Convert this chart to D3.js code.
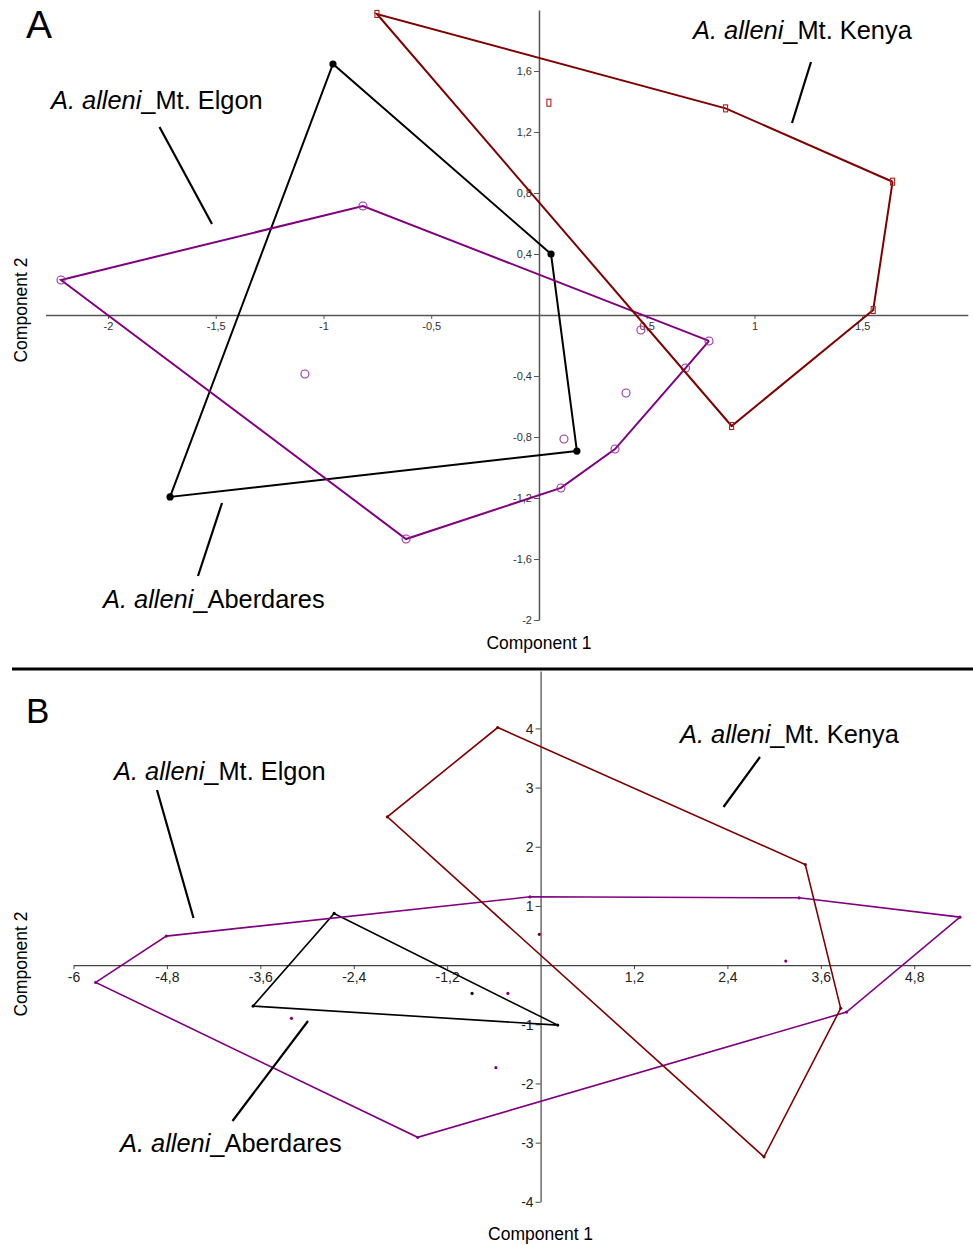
<!DOCTYPE html>
<html>
<head>
<meta charset="utf-8">
<script src="https://cdn.jsdelivr.net/npm/d3@7"></script>
<style>
  body { margin: 0; background: #fff; }
  text { font-family: "Liberation Sans", Arial, sans-serif; }
</style>
</head>
<body>
<div id="plot"></div>
<script>
// groups
const groupNames = ['Aberdares', 'Mt. Elgon', 'Mt. Kenya'];
const groupColors = ['#000000', '#800080', '#7f0000'];

// panel A scores [component 1, component 2]
const aAberdares = [[-0.956, 1.646], [0.056, 0.40], [0.176, -0.892], [-1.712, -1.193]];
const aElgon = [[-2.218, 0.23], [-0.817, 0.715], [0.789, -0.17], [0.68, -0.348], [0.353, -0.879],
  [0.102, -1.134], [-0.617, -1.469], [-1.086, -0.387], [0.473, -0.098], [0.404, -0.511], [0.116, -0.813]];
const aKenya = [[-0.752, 1.974], [0.866, 1.355], [1.641, 0.874], [1.551, 0.033], [0.894, -0.728], [0.046, 1.392]];

// panel B scores
const bAberdares = [[-2.652, 0.873], [0.22, -1.014], [-3.693, -0.693], [-0.88, -0.478]];
const bElgon = [[-5.715, -0.292], [-4.808, 0.49], [-0.136, 1.154], [3.32, 1.137], [5.387, 0.81],
  [3.93, -0.794], [-1.579, -2.91], [-3.20, -0.90], [-0.42, -0.478], [-0.574, -1.734], [3.15, 0.068]];
const bKenya = [[-0.551, 4.015], [3.40, 1.70], [3.855, -0.731], [2.87, -3.24], [-1.968, 2.505], [-0.016, 0.52]];

// axis extents and ticks
const aXDomain = [-2.29, 1.99];
const aYDomain = [-2, 2];
const aXTicks = [-2, -1.5, -1, -0.5, 0.5, 1, 1.5];
const aYTicks = [-2, -1.6, -1.2, -0.8, -0.4, 0.4, 0.8, 1.2, 1.6];
const bXDomain = [-6, 5.52];
const bYDomain = [-4, 4.97];
const bXTicks = [-6, -4.8, -3.6, -2.4, -1.2, 1.2, 2.4, 3.6, 4.8];
const bYTicks = [-4, -3, -2, -1, 1, 2, 3, 4];

const axisTitles = ['Component 1', 'Component 2'];

const svg = d3.select('#plot')
  .append('svg')
  .attr('width', 973)
  .attr('height', 1245)
  .attr('xmlns', 'http://www.w3.org/2000/svg');

const fmt = (d) => String(d).replace('.', ',');

const drawPanel = (p) => {
  const g = svg.append('g').attr('class', 'panel');

  const x = d3.scaleLinear().domain(p.xDomain).range(p.xRange);
  const y = d3.scaleLinear().domain(p.yDomain).range(p.yRange);

  // axes cross at the origin
  const xAxis = d3.axisBottom(x)
    .tickValues(p.xTicks)
    .tickFormat(fmt)
    .tickSizeInner(4)
    .tickSizeOuter(0)
    .tickPadding(p.xPad);

  const yAxis = d3.axisLeft(y)
    .tickValues(p.yTicks)
    .tickFormat(fmt)
    .tickSizeInner(5)
    .tickSizeOuter(0)
    .tickPadding(2);

  const gx = g.append('g')
    .attr('transform', `translate(0,${y(0)})`)
    .call(xAxis);
  const gy = g.append('g')
    .attr('transform', `translate(${x(0)},0)`)
    .call(yAxis);

  [gx, gy].forEach((ax) => {
    ax.select('.domain').attr('stroke', p.axisColor).attr('stroke-width', p.axisWidth);
    ax.selectAll('.tick line').attr('stroke', p.axisColor).attr('stroke-width', 1);
    ax.selectAll('.tick text')
      .attr('fill', p.tickColor)
      .style('font-size', `${p.tickFont}px`)
      .style('font-family', '"Liberation Sans", Arial, sans-serif');
  });
  gy.selectAll('.tick text').attr('dy', '0.36em');

  // convex hulls and points
  const line = d3.line().x((d) => x(d[0])).y((d) => y(d[1]));
  p.groups.forEach((pts, i) => {
    const hull = d3.polygonHull(pts);
    g.append('path')
      .attr('d', line(hull.concat([hull[0]])))
      .attr('fill', 'none')
      .attr('stroke', groupColors[i])
      .attr('stroke-width', p.hullWidth)
      .attr('stroke-linejoin', 'miter');

    const marks = g.append('g').attr('class', `pts-${i}`);
    pts.forEach((d) => {
      if (p.markers === 'small') {
        marks.append('circle')
          .attr('cx', x(d[0])).attr('cy', y(d[1])).attr('r', 1.6)
          .attr('fill', groupColors[i]);
      } else if (i === 0) {
        marks.append('circle')
          .attr('cx', x(d[0])).attr('cy', y(d[1])).attr('r', 3.6)
          .attr('fill', groupColors[i]);
      } else if (i === 1) {
        marks.append('circle')
          .attr('cx', x(d[0])).attr('cy', y(d[1])).attr('r', 4)
          .attr('fill', 'none')
          .attr('stroke', '#9b30a0')
          .attr('stroke-width', 1.1);
      } else {
        marks.append('rect')
          .attr('x', x(d[0]) - 2).attr('y', y(d[1]) - 3.5)
          .attr('width', 4).attr('height', 7)
          .attr('fill', 'none')
          .attr('stroke', '#b02020')
          .attr('stroke-width', 1.1);
      }
    });
  });

  // group labels with leader lines
  p.labels.forEach((l) => {
    const t = g.append('text')
      .attr('x', l.x).attr('y', l.y)
      .attr('fill', 'black')
      .style('font-size', '25.4px');
    t.append('tspan').style('font-style', 'italic').text('A. alleni');
    t.append('tspan').text(`_${groupNames[l.group]}`);
    g.append('line')
      .attr('x1', l.line[0]).attr('y1', l.line[1])
      .attr('x2', l.line[2]).attr('y2', l.line[3])
      .attr('stroke', 'black')
      .attr('stroke-width', 2.2);
  });

  // panel letter
  g.append('text')
    .attr('x', 26).attr('y', p.letterY)
    .style('font-size', `${p.letterSize}px`)
    .text(p.letter);

  // axis titles
  g.append('text')
    .attr('x', x(0)).attr('y', p.titleX)
    .attr('text-anchor', 'middle')
    .style('font-size', '17.5px')
    .text(axisTitles[0]);
  g.append('text')
    .attr('transform', `translate(27,${p.titleYMid}) rotate(-90)`)
    .attr('text-anchor', 'middle')
    .style('font-size', '17.5px')
    .text(axisTitles[1]);
};

drawPanel({
  letter: 'A', letterY: 38, letterSize: 39,
  xDomain: aXDomain, yDomain: aYDomain,
  xRange: [45.5, 967.8], yRange: [620, 10],
  xTicks: aXTicks, yTicks: aYTicks, xPad: 3,
  axisColor: '#555', axisWidth: 1.5, tickColor: '#333', tickFont: 11,
  hullWidth: 2, markers: 'shapes',
  groups: [aAberdares, aElgon, aKenya],
  labels: [
    { group: 1, x: 51, y: 109, line: [159.5, 127, 212, 224] },
    { group: 2, x: 693, y: 39, line: [811, 62, 792, 123] },
    { group: 0, x: 103, y: 608, line: [222, 503, 198, 576] },
  ],
  titleX: 649, titleYMid: 310,
});

// separator between the panels
svg.append('line')
  .attr('x1', 12).attr('x2', 973)
  .attr('y1', 669).attr('y2', 669)
  .attr('stroke', 'black')
  .attr('stroke-width', 3);

drawPanel({
  letter: 'B', letterY: 723, letterSize: 35,
  xDomain: bXDomain, yDomain: bYDomain,
  xRange: [73.5, 970.3], yRange: [1201.8, 671],
  xTicks: bXTicks, yTicks: bYTicks, xPad: 3,
  axisColor: '#444', axisWidth: 1.2, tickColor: '#222', tickFont: 14,
  hullWidth: 1.6, markers: 'small',
  groups: [bAberdares, bElgon, bKenya],
  labels: [
    { group: 1, x: 114, y: 780, line: [157, 790, 193.5, 918] },
    { group: 2, x: 680, y: 743, line: [760, 757, 723.5, 807] },
    { group: 0, x: 120, y: 1152, line: [308, 1021, 232.5, 1121] },
  ],
  titleX: 1240, titleYMid: 964,
});
</script>
</body>
</html>
